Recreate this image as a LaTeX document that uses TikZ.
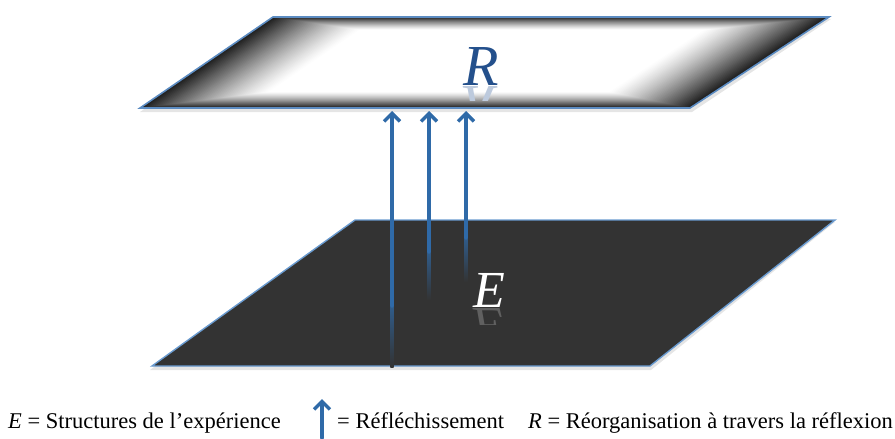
\documentclass[tikz,border=0pt]{standalone}
\usepackage{fontspec}
\setmainfont{Liberation Serif}
\usetikzlibrary{arrows.meta}
\definecolor{arrowblue}{HTML}{2F6AA8}
\definecolor{planedark}{HTML}{333333}
\definecolor{edgeblue}{HTML}{6A9BD0}
\definecolor{rblue}{HTML}{24508C}
\begin{document}
\begin{tikzpicture}[x=1pt,y=-1pt,
  reflarrow/.style={draw=arrowblue, line width=3.4pt, line cap=round,
    -{Straight Barb[length=8pt,width=16pt]}},
  fadeseg/.style={top color=arrowblue!75!planedark, bottom color=planedark},
  legend/.style={anchor=base west, font=\fontsize{22.5}{26}\selectfont, inner sep=0pt},
  planeletter/.style={font=\fontsize{58}{58}\selectfont\itshape, inner sep=0pt}]
\useasboundingbox (0,0) rectangle (895,439);
% ---------- lower plane E ----------
\fill[black!10] (355,222) -- (835,222) -- (651,370) -- (150,370) -- cycle;
\fill[planedark] (355,220) -- (835,220) -- (650,366) -- (152,366) -- cycle;
\draw[edgeblue, line width=1.4pt] (355,220) -- (835,220) -- (650,366) -- (152,366) -- cycle;
% ---------- upper plane R ----------
\fill[black!10] (273,19) -- (831,19) -- (692,112) -- (140,112) -- cycle;
\foreach \i in {0,...,50} {
  \pgfmathsetmacro\t{\i/50}
  \pgfmathsetmacro\ty{17+13*\t}
  \pgfmathsetmacro\by{108-16*\t}
  \pgfmathsetmacro\c{105*\t}
  \pgfmathsetmacro\tlx{140+(108-\ty)*1.4615+\c}
  \pgfmathsetmacro\blx{140+(108-\by)*1.4615+\c}
  \pgfmathsetmacro\trx{690+(108-\ty)*1.5275-\c}
  \pgfmathsetmacro\brx{690+(108-\by)*1.5275-\c}
  \pgfmathsetmacro\g{88*(1-\t)^1.25}
  \fill[black!\g] (\tlx,\ty) -- (\trx,\ty) -- (\brx,\by) -- (\blx,\by) -- cycle;
}
\draw[edgeblue!80!rblue, line width=1.6pt] (273,17) -- (829,17) -- (690,108) -- (140,108) -- cycle;
\node[planeletter, text=rblue, anchor=base] (R) at (481,85) {R};
\begin{scope}
  \clip (440,86) rectangle (520,100);
  \node[planeletter, text=rblue!30, anchor=base] (Rr) at (481,86) {\scalebox{1}[-1]{R}};
\end{scope}
\node[planeletter, text=white, anchor=base, font=\fontsize{52}{52}\selectfont\itshape] (E) at (489,307) {E};
\begin{scope}
  \clip (460,308) rectangle (520,324);
  \node[planeletter, text=white!22!planedark, anchor=base, font=\fontsize{52}{52}\selectfont\itshape] (Er) at (489,308) {\scalebox{1}[-1]{E}};
\end{scope}
% ---------- arrows ----------
\coordinate (a1top) at (392,111); \coordinate (a1mid) at (392,306); \coordinate (a1end) at (392,367);
\coordinate (a2top) at (429,111); \coordinate (a2mid) at (429,252); \coordinate (a2end) at (429,300);
\coordinate (a3top) at (466,111); \coordinate (a3mid) at (466,238); \coordinate (a3end) at (466,282);
\shade[fadeseg] ([xshift=-1.7pt]a1mid) rectangle ([xshift=1.7pt]a1end);
\shade[fadeseg] ([xshift=-1.7pt]a2mid) rectangle ([xshift=1.7pt]a2end);
\shade[fadeseg] ([xshift=-1.7pt]a3mid) rectangle ([xshift=1.7pt]a3end);
\draw[reflarrow] (a1mid) -- (a1top);
\draw[reflarrow] (a2mid) -- (a2top);
\draw[reflarrow] (a3mid) -- (a3top);
% ---------- legend ----------
\node[legend] (legE) at (8,428) {\textit{E} = Structures de l’expérience};
\coordinate (la0) at (322,438); \coordinate (la1) at (322,399);
\draw[reflarrow] (la0) -- (la1);
\node[legend] (legA) at (337,428) {= Réfléchissement};
\node[legend] (legR) at (528,428) {\textit{R} = Réorganisation à travers la réflexion};
\end{tikzpicture}
\end{document}
